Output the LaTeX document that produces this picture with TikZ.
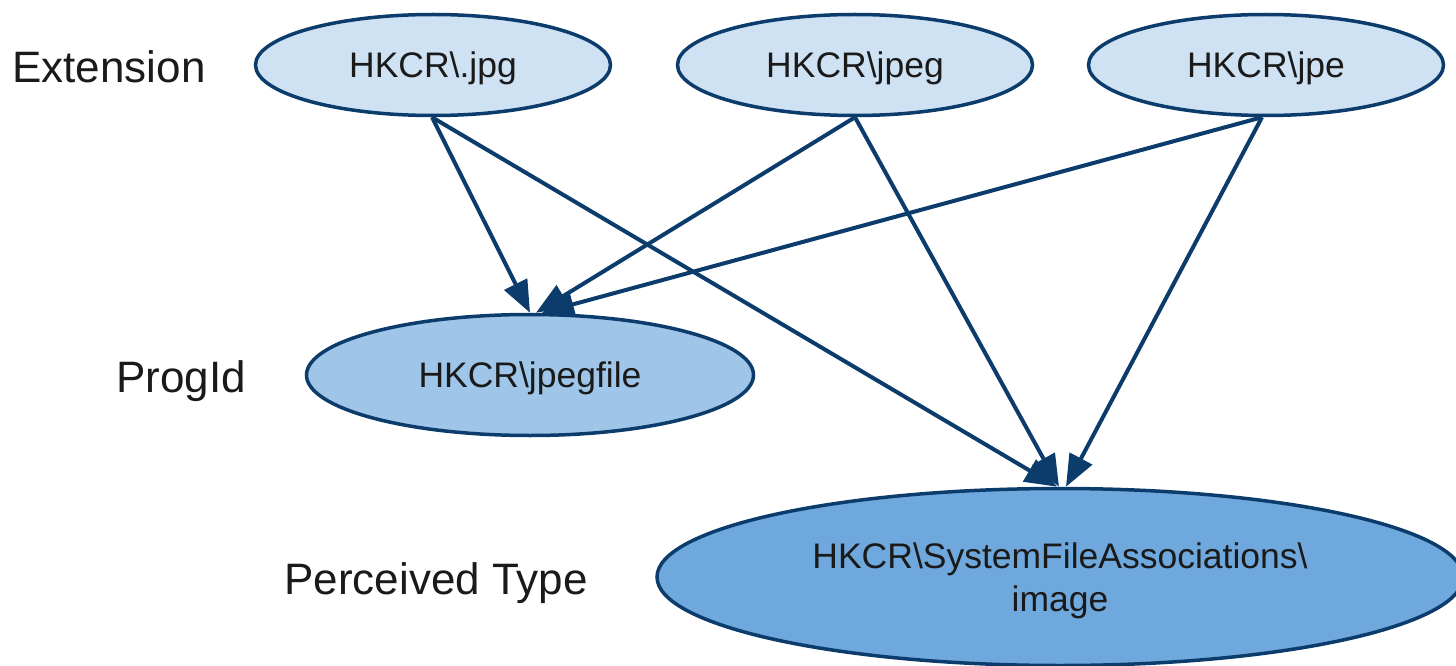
\documentclass[tikz,border=0pt]{standalone}
\usepackage{fontspec}
\setmainfont{Liberation Sans}
\usetikzlibrary{shapes.geometric,arrows.meta}
\definecolor{edgeblue}{HTML}{0B3C6B}
\definecolor{fillA}{HTML}{CFE2F3}
\definecolor{fillB}{HTML}{9FC5E8}
\definecolor{fillC}{HTML}{6FA8DC}
\definecolor{txt}{HTML}{1A1A1A}
\begin{document}
\begin{tikzpicture}[x=1pt,y=-1pt,
  ell/.style={ellipse, draw=edgeblue, line width=3.5pt, inner sep=0pt, text=txt,
              text depth=0pt, font=\fontsize{35.5}{42.5}\selectfont, align=center},
  lvl/.style={font=\fontsize{44}{50}\selectfont, text=txt, inner sep=0pt, anchor=base},
  arr/.style={draw=edgeblue, line width=4pt, -{Triangle[length=32pt,width=25pt]}}]
\useasboundingbox (0,0) rectangle (1456,666);
% level labels
\node[lvl] (lext) at (109,83) {Extension};
\node[lvl] (lprog) at (181,392) {ProgId};
\node[lvl] (lperc) at (436,594) {Perceived Type};
% nodes
\node[ell, fill=fillA, minimum width=355pt, minimum height=101pt] (jpg) at (433,65) {HKCR\textbackslash.jpg};
\node[ell, fill=fillA, minimum width=355pt, minimum height=101pt] (jpeg) at (855,65) {HKCR\textbackslash jpeg};
\node[ell, fill=fillA, minimum width=355pt, minimum height=101pt] (jpe) at (1266,65) {HKCR\textbackslash jpe};
\node[ell, fill=fillB, minimum width=447pt, minimum height=121pt] (jpegfile) at (530,375) {HKCR\textbackslash jpegfile};
\node[ell, fill=fillC, minimum width=806pt, minimum height=177pt] (sfa) at (1060,577) {HKCR\textbackslash SystemFileAssociations\textbackslash\\image};
% connectors
\draw[arr] ([xshift=-1pt]jpg.south) -- ([xshift=0pt]jpegfile.north);
\draw[arr] ([xshift=-1pt]jpg.south) -- ([xshift=-3pt]sfa.north);
\draw[arr] (jpeg.south) -- ([xshift=6pt]jpegfile.north);
\draw[arr] (jpeg.south) -- ([xshift=-1pt]sfa.north);
\draw[arr] ([xshift=-4pt]jpe.south) -- ([xshift=12pt]jpegfile.north);
\draw[arr] ([xshift=-4pt]jpe.south) -- ([xshift=6pt]sfa.north);
\end{tikzpicture}
\end{document}
